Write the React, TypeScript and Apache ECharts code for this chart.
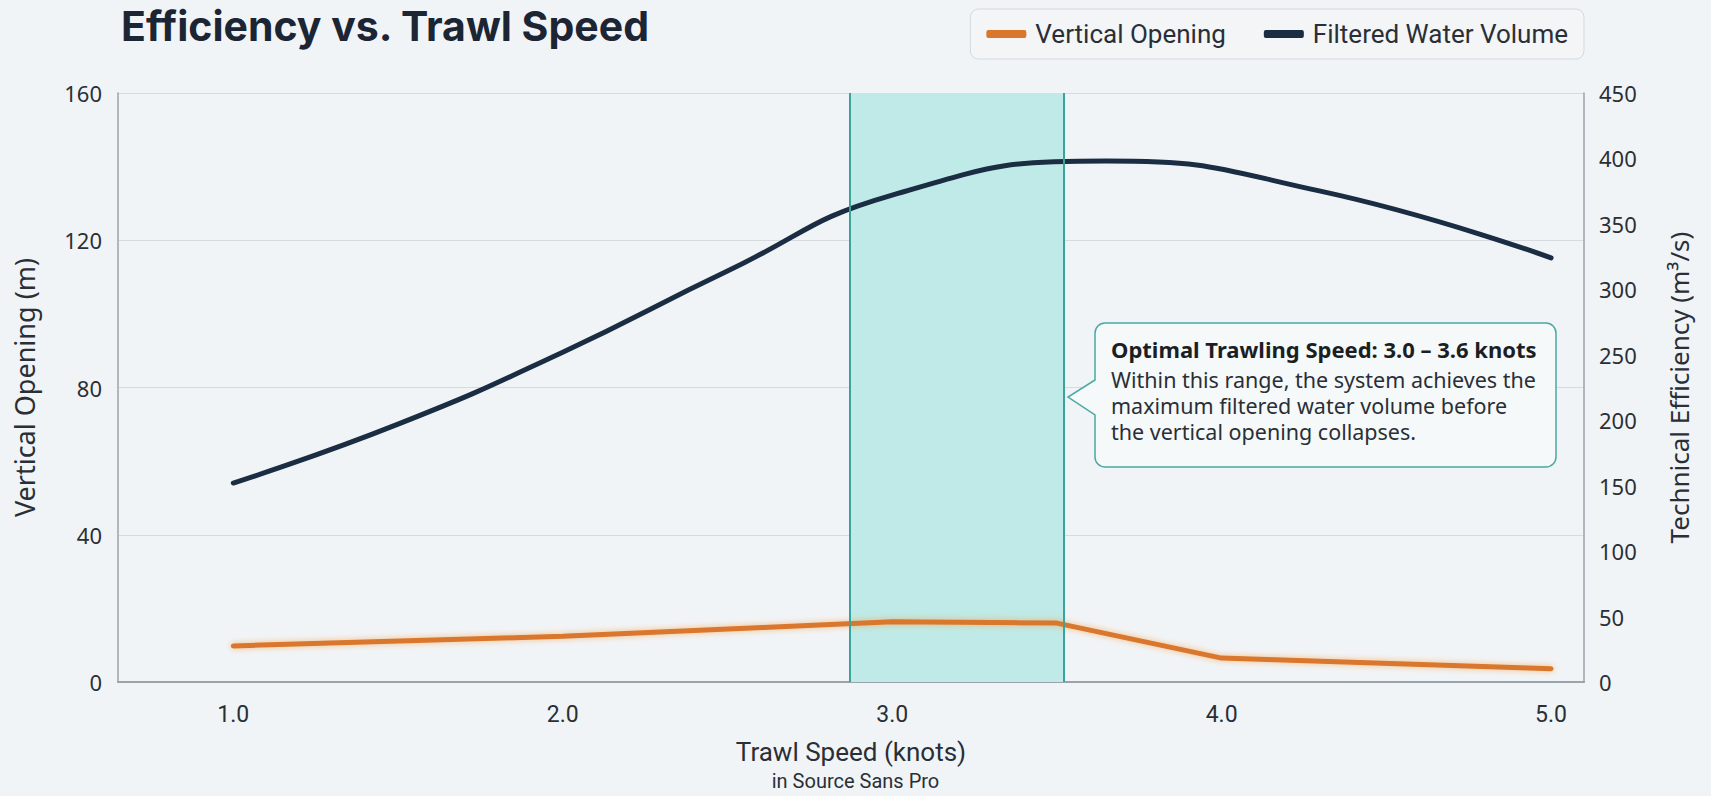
import React, { useEffect, useRef } from "react";
import * as echarts from "echarts";

const xTicks = [1.0, 2.0, 3.0, 4.0, 5.0];
const openingData: [number, number][] = [
  [1.0, 9.8],
  [2.0, 12.4],
  [3.0, 16.4],
  [3.5, 16.0],
  [4.0, 6.5],
  [5.0, 3.6],
];
const volumeData: [number, number][] = [
  [1.0, 152],
  [1.5, 197],
  [2.0, 252],
  [2.5, 314],
  [3.0, 372],
  [3.65, 398],
  [4.3, 375],
  [5.0, 324],
];
const optimalBand = [2.87, 3.52];

const calloutPath =
  "M10,0 H451 A10,10 0 0 1 461,10 V134 A10,10 0 0 1 451,144 H10 A10,10 0 0 1 0,134 V92 L-27,74 L0,57 V10 A10,10 0 0 1 10,0 Z";
echarts.graphic.registerShape("callout", echarts.graphic.extendPath(calloutPath, {}) as any);

const FONT = "'Noto Sans', 'Open Sans', sans-serif";
const TEXT = "#2a2f36";

export default function App() {
  const ref = useRef<HTMLDivElement>(null);
  useEffect(() => {
    document.body.style.margin = "0";
    const chart = echarts.init(ref.current!, undefined, { renderer: "svg" });
    chart.setOption({
      animation: false,
      backgroundColor: "#f1f4f7",
      textStyle: { fontFamily: FONT },
      title: {
        text: "Efficiency vs. Trawl Speed",
        left: 116,
        top: 0,
        textStyle: { fontFamily: "Inter, sans-serif", fontWeight: "bold", fontSize: 41, color: "#1b2533" },
      },
      legend: {
        right: 127,
        top: 9,
        padding: [12, 16],
        itemGap: 38,
        itemWidth: 40,
        itemHeight: 8,
        borderColor: "#d3d9df",
        borderWidth: 1,
        borderRadius: 8,
        backgroundColor: "#f3f5f7",
        icon: "roundRect",
        textStyle: { fontFamily: "Roboto, sans-serif", fontSize: 26, color: TEXT, padding: [3, 0, 0, 4] },
        data: ["Vertical Opening", "Filtered Water Volume"],
      },
      grid: { left: 118, right: 127, top: 93, bottom: 114 },
      xAxis: {
        type: "value",
        min: 0.65,
        max: 5.1,
        name: "Trawl Speed (knots)",
        nameLocation: "middle",
        nameGap: 57,
        nameTextStyle: { fontSize: 26, color: TEXT, fontFamily: "Roboto, sans-serif" },
        axisLine: { lineStyle: { color: "#9aa3ab", width: 2 } },
        axisTick: { show: false },
        splitLine: { show: false },
        axisLabel: {
          customValues: xTicks,
          formatter: (v: number) => v.toFixed(1),
          fontSize: 23,
          color: TEXT,
          margin: 21,
          fontFamily: "Roboto, sans-serif",
        },
      },
      yAxis: [
        {
          type: "value",
          min: 0,
          max: 160,
          interval: 40,
          name: "Vertical Opening (m)",
          nameLocation: "middle",
          nameGap: 80,
          nameTextStyle: { fontSize: 27, color: TEXT },
          axisLine: { show: true, lineStyle: { color: "#9aa3ab", width: 1.5 } },
          axisTick: { show: false },
          splitLine: { lineStyle: { color: "#d6dbe0", width: 1 } },
          axisLabel: { fontSize: 22, color: TEXT, margin: 16 },
        },
        {
          type: "value",
          min: 0,
          max: 450,
          interval: 50,
          name: "Technical Efficiency (m³/s)",
          nameLocation: "middle",
          nameGap: 82,
          nameRotate: 90,
          nameTextStyle: { fontSize: 26, color: TEXT },
          axisLine: { show: true, lineStyle: { color: "#9aa3ab", width: 1.5 } },
          axisTick: { show: false },
          splitLine: { show: false },
          axisLabel: { fontSize: 22, color: TEXT, margin: 15 },
        },
      ],
      series: [
        {
          name: "Vertical Opening",
          type: "line",
          yAxisIndex: 0,
          data: openingData,
          symbol: "none",
          z: 3,
          lineStyle: {
            color: "#d9772d",
            width: 5,
            shadowColor: "rgba(245,160,70,0.7)",
            shadowBlur: 6,
            cap: "round",
          },
          itemStyle: { color: "#d9772d" },
          markArea: {
            silent: true,
            itemStyle: { color: "#bfeae7" },
            data: [[{ xAxis: optimalBand[0] }, { xAxis: optimalBand[1] }]],
          },
          markLine: {
            silent: true,
            symbol: "none",
            label: { show: false },
            lineStyle: { color: "#3aa39b", width: 2, type: "solid" },
            data: [{ xAxis: optimalBand[0] }, { xAxis: optimalBand[1] }],
          },
        },
        {
          name: "Filtered Water Volume",
          type: "line",
          yAxisIndex: 1,
          data: volumeData,
          smooth: 0.5,
          symbol: "none",
          z: 4,
          lineStyle: { color: "#1a2d43", width: 5, cap: "round" },
          itemStyle: { color: "#1a2d43" },
        },
      ],
      graphic: [
        {
          type: "callout",
          x: 1095,
          y: 323,
          z: 100,
          style: { fill: "#f6f9fa", stroke: "#4aa9a1", lineWidth: 1.5 },
        },
        {
          type: "text",
          left: 1111,
          top: 338,
          z: 101,
          style: {
            text: "Optimal Trawling Speed: 3.0 – 3.6 knots",
            font: `bold 22px ${FONT}`,
            fill: "#1b1f24",
          },
        },
        {
          type: "text",
          left: 1111,
          top: 366,
          z: 101,
          style: {
            text:
              "Within this range, the system achieves the\nmaximum filtered water volume before\nthe vertical opening collapses.",
            font: `21.5px ${FONT}`,
            lineHeight: 26,
            fill: TEXT,
          },
        },
        {
          type: "text",
          left: "center",
          top: 771,
          style: {
            text: "in Source Sans Pro",
            font: "20px Roboto, sans-serif",
            fill: TEXT,
          },
        },
      ],
    });
    return () => chart.dispose();
  }, []);
  return <div ref={ref} style={{ position: "fixed", left: 0, top: 0, width: 1711, height: 796 }} />;
}
